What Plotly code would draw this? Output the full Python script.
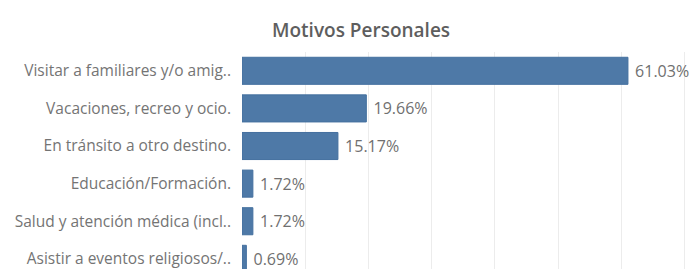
import plotly.graph_objects as go

categories = [
    "Visitar a familiares y/o amig..",
    "Vacaciones, recreo y ocio.",
    "En tránsito a otro destino.",
    "Educación/Formación.",
    "Salud y atención médica (incl..",
    "Asistir a eventos religiosos/..",
]
values = [61.03, 19.66, 15.17, 1.72, 1.72, 0.69]
title_text = "Motivos Personales"

FONT = "Open Sans, sans-serif"

fig = go.Figure(
    go.Bar(
        x=values,
        y=categories,
        orientation="h",
        marker=dict(color="#4e79a7", line=dict(color="#44709f", width=1)),
        width=0.72,
        texttemplate=" %{x:.2f}%",
        textposition="outside",
        textfont=dict(family=FONT, size=16, color="#707070"),
        cliponaxis=False,
    )
)

fig.update_layout(
    width=691,
    height=269,
    margin=dict(l=242, r=0, t=52, b=0),
    paper_bgcolor="white",
    plot_bgcolor="white",
    showlegend=False,
    xaxis=dict(
        range=[0, 71],
        dtick=10,
        showticklabels=False,
        showgrid=True,
        gridcolor="#ececec",
        gridwidth=1,
        zeroline=False,
        showline=False,
        fixedrange=True,
    ),
    yaxis=dict(
        type="category",
        categoryorder="array",
        categoryarray=categories,
        range=[5.27, -0.5],
        showgrid=False,
        zeroline=False,
        showline=False,
        ticks="",
        ticklabelstandoff=10,
        tickfont=dict(family=FONT, size=15.5, color="#747474"),
        fixedrange=True,
    ),
    annotations=[
        dict(
            text=title_text,
            xref="paper",
            yref="paper",
            x=(361 - 242) / (691 - 242),
            y=1,
            yshift=22,
            xanchor="center",
            yanchor="middle",
            showarrow=False,
            font=dict(family=FONT, size=19, color="#5e5e5e", weight=600),
        )
    ],
)

fig.write_html(
    "out.html",
    config={"displayModeBar": False},
    post_script="document.body.style.margin='0';document.body.style.padding='0';",
)
